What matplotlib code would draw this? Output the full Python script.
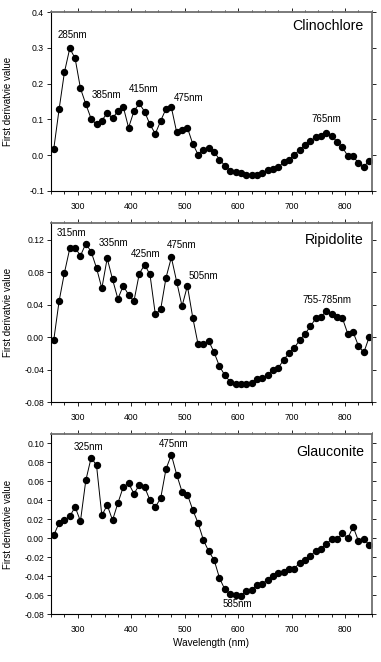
import numpy as np
import matplotlib
matplotlib.use('Agg')
import matplotlib.pyplot as plt
from matplotlib.ticker import MultipleLocator, FormatStrFormatter

plt.rcParams['font.family'] = ['Liberation Sans', 'DejaVu Sans']
plt.rcParams['axes.unicode_minus'] = False

# wavelengths, 255..845 every 10 nm
wavelength = list(range(255, 850, 10))

clinochlore = [0.017, 0.128, 0.232, 0.299, 0.271, 0.187, 0.143, 0.102, 0.086, 0.097,
               0.118, 0.103, 0.124, 0.136, 0.077, 0.123, 0.145, 0.122, 0.086, 0.060,
               0.096, 0.130, 0.134, 0.064, 0.071, 0.077, 0.032, 0.002, 0.016, 0.021,
               0.010, -0.012, -0.029, -0.044, -0.048, -0.050, -0.054, -0.054, -0.054, -0.051,
               -0.042, -0.038, -0.033, -0.020, -0.013, 0.001, 0.016, 0.028, 0.040, 0.050,
               0.055, 0.062, 0.055, 0.037, 0.022, -0.002, -0.003, -0.022, -0.032, -0.015]

ripidolite = [-0.004, 0.044, 0.079, 0.109, 0.110, 0.100, 0.115, 0.105, 0.085, 0.060,
              0.097, 0.071, 0.047, 0.063, 0.052, 0.044, 0.078, 0.089, 0.077, 0.028,
              0.034, 0.073, 0.098, 0.068, 0.038, 0.063, 0.024, -0.009, -0.008, -0.005,
              -0.019, -0.036, -0.047, -0.055, -0.058, -0.058, -0.058, -0.057, -0.052, -0.051,
              -0.047, -0.040, -0.038, -0.028, -0.020, -0.013, -0.004, 0.004, 0.013, 0.023,
              0.025, 0.032, 0.028, 0.025, 0.023, 0.004, 0.006, -0.011, -0.019, 0.000]

glauconite = [0.003, 0.016, 0.019, 0.023, 0.033, 0.018, 0.061, 0.085, 0.077, 0.024,
              0.035, 0.019, 0.037, 0.054, 0.058, 0.047, 0.056, 0.054, 0.040, 0.033,
              0.042, 0.073, 0.088, 0.067, 0.049, 0.046, 0.030, 0.016, -0.002, -0.014,
              -0.023, -0.042, -0.054, -0.059, -0.060, -0.061, -0.056, -0.055, -0.049, -0.048,
              -0.044, -0.040, -0.037, -0.036, -0.032, -0.032, -0.026, -0.023, -0.019, -0.013,
              -0.011, -0.006, -0.001, -0.001, 0.005, 0.000, 0.012, -0.003, -0.001, -0.007]

# peak labels: (text, x, y)
clino_labels = [('285nm', 289, 0.336), ('385nm', 354, 0.169), ('415nm', 423, 0.185),
                ('475nm', 508, 0.159), ('765nm', 765, 0.100)]
ripi_labels = [('315nm', 288, 0.128), ('335nm', 366, 0.1155), ('425nm', 426, 0.1024),
               ('475nm', 494, 0.1135), ('505nm', 535, 0.0747), ('755-785nm', 766, 0.046)]
glau_labels = [('325nm', 320, 0.0965), ('475nm', 479, 0.0996), ('585nm', 598, -0.0697)]

panels = [
    ('Clinochlore', clinochlore, clino_labels, (-0.1, 0.4), 0.1, '%.1f', 0.362, [0.134, 0.7115, 0.842, 0.270]),
    ('Ripidolite', ripidolite, ripi_labels, (-0.08, 0.14), 0.04, '%.2f', 0.120, [0.134, 0.3927, 0.842, 0.270]),
    ('Glauconite', glauconite, glau_labels, (-0.08, 0.11), 0.02, '%.2f', 0.0908, [0.134, 0.0725, 0.842, 0.272]),
]

fig = plt.figure(figsize=(3.81, 6.62), dpi=100)
gray = '#707070'

for name, vals, labels, ylim, ystep, fmt, name_y, pos in panels:
    ax = fig.add_axes(pos)
    ax.plot(wavelength, vals, color='black', lw=0.7, marker='o', ms=4.3,
            markerfacecolor='black', markeredgecolor='black')
    ax.set_xlim(250, 850)
    ax.set_ylim(*ylim)
    ax.xaxis.set_major_locator(MultipleLocator(100))
    ax.xaxis.set_minor_locator(MultipleLocator(25))
    ax.yaxis.set_major_locator(MultipleLocator(ystep))
    ax.yaxis.set_major_formatter(FormatStrFormatter(fmt))
    ax.tick_params(axis='both', which='both', direction='out', top=True, right=True,
                   labelsize=6.2, width=0.6)
    ax.tick_params(axis='x', pad=5)
    ax.tick_params(axis='y', pad=2)
    ax.tick_params(which='major', length=3)
    ax.tick_params(which='minor', length=1.8)
    for side in ['left', 'bottom']:
        ax.spines[side].set_linewidth(0.8)
        ax.spines[side].set_color('black')
    for side in ['top', 'right']:
        ax.spines[side].set_linewidth(1.3)
        ax.spines[side].set_color(gray)
    ax.set_ylabel('First derivatvie value', fontsize=7)
    ax.yaxis.set_label_coords(-0.119, 0.5)
    ax.text(835, name_y, name, fontsize=10.2, ha='right', va='center')
    for txt, x, y in labels:
        ax.text(x, y, txt, fontsize=7, ha='center', va='center')
    if name == 'Glauconite':
        ax.set_xlabel('Wavelength (nm)', fontsize=7.2, labelpad=3)

fig.savefig('out.png', dpi=100)
